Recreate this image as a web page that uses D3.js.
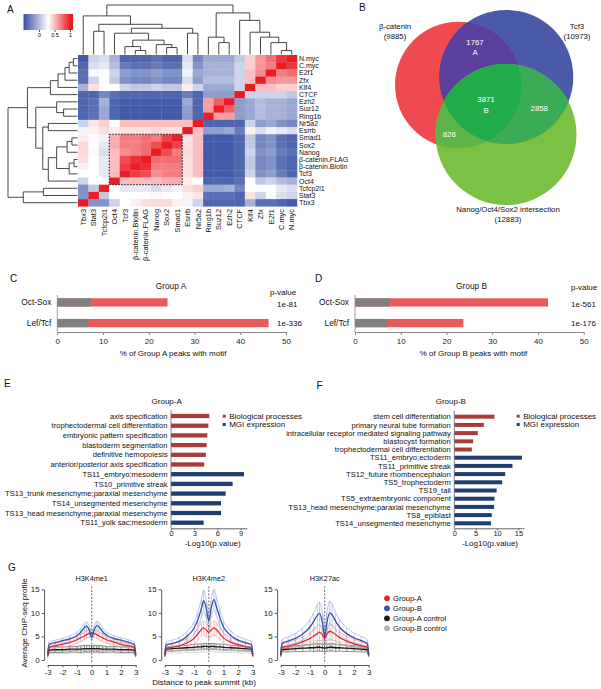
<!DOCTYPE html>
<html>
<head>
<meta charset="utf-8">
<script src="https://cdn.jsdelivr.net/npm/d3@7"></script>
<style>
  body { margin: 0; background: #fff; }
</style>
</head>
<body>
<div id="figure"></div>
<script>
// ---------- data ----------
const heatCols = ['Tbx3', 'Stat3', 'Tcfcp2l1', 'Oct4', 'Tcf3', 'β-catenin.Biotin', 'β-catenin.FLAG', 'Nanog', 'Sox2', 'Smad1',
  'Esrrb', 'Nr5a2', 'Ring1b', 'Suz12', 'Ezh2', 'CTCF', 'Klf4', 'Zfx', 'E2f1', 'C.myc', 'N.myc'];
const heatRows = ['N.myc', 'C.myc', 'E2f1', 'Zfx', 'Klf4', 'CTCF', 'Ezh2', 'Suz12', 'Ring1b', 'Nr5a2', 'Esrrb',
  'Smad1', 'Sox2', 'Nanog', 'β-catenin.FLAG', 'β-catenin.Biotin', 'Tcf3', 'Oct4', 'Tcfcp2l1', 'Stat3', 'Tbx3'];
// correlation, one row per heatRows entry, columns in heatCols order
const corr = [
  [-0.45, 0.1, 0.15, -0.05, -0.4, -0.4, -0.4, -0.35, -0.4, -0.4, 0.15, -0.25, -0.1, -0.1, -0.1, 0.05, 0.45, 0.62, 0.75, 0.92, 1],
  [-0.4, 0.15, 0.2, 0.0, -0.3, -0.35, -0.35, -0.3, -0.35, -0.35, 0.2, -0.2, -0.05, -0.05, -0.05, 0.1, 0.45, 0.62, 0.7, 1, 0.92],
  [-0.35, 0.28, 0.3, 0.1, -0.15, -0.2, -0.2, -0.15, -0.2, -0.2, 0.25, -0.1, -0.05, -0.05, -0.05, 0.1, 0.5, 0.65, 1, 0.7, 0.75],
  [-0.35, 0.1, 0.3, 0.05, -0.2, -0.25, -0.25, -0.2, -0.25, -0.25, 0.15, -0.15, 0.0, 0.0, 0.0, 0.1, 0.5, 1, 0.65, 0.62, 0.62],
  [-0.05, 0.4, 0.3, 0.3, 0.1, 0.05, 0.05, 0.1, 0.05, 0.05, 0.35, 0.1, -0.1, -0.1, -0.1, 0.1, 1, 0.5, 0.5, 0.45, 0.45],
  [-0.4, -0.4, -0.25, -0.35, -0.4, -0.4, -0.4, -0.4, -0.4, -0.4, -0.3, -0.4, -0.15, -0.15, -0.15, 1, 0.1, 0.1, 0.1, 0.1, 0.05],
  [-0.4, -0.35, -0.05, -0.4, -0.45, -0.45, -0.45, -0.45, -0.45, -0.45, -0.1, -0.4, 0.6, 0.8, 1, -0.15, -0.1, 0.0, -0.05, -0.05, -0.1],
  [-0.4, -0.35, -0.1, -0.4, -0.45, -0.45, -0.45, -0.45, -0.45, -0.45, -0.15, -0.4, 0.6, 1, 0.8, -0.15, -0.1, 0.0, -0.05, -0.05, -0.1],
  [-0.4, -0.35, -0.1, -0.4, -0.45, -0.45, -0.45, -0.45, -0.45, -0.45, -0.15, -0.4, 1, 0.6, 0.6, -0.15, -0.1, 0.0, -0.05, -0.05, -0.1],
  [0.1, 0.38, 0.45, 0.3, 0.5, 0.5, 0.5, 0.5, 0.5, 0.5, 0.5, 1, -0.4, -0.4, -0.4, -0.4, 0.1, -0.15, -0.1, -0.2, -0.25],
  [0.25, 0.35, 0.4, 0.35, 0.4, 0.4, 0.4, 0.42, 0.4, 0.4, 1, 0.5, -0.15, -0.15, -0.1, -0.3, 0.35, 0.15, 0.25, 0.2, 0.15],
  [0.35, 0.3, 0.25, 0.55, 0.7, 0.7, 0.75, 0.7, 0.88, 1, 0.4, 0.5, -0.45, -0.45, -0.45, -0.4, 0.05, -0.25, -0.2, -0.35, -0.4],
  [0.42, 0.3, 0.2, 0.55, 0.7, 0.7, 0.75, 0.85, 1, 0.88, 0.4, 0.5, -0.45, -0.45, -0.45, -0.4, 0.05, -0.25, -0.2, -0.35, -0.4],
  [0.42, 0.32, 0.15, 0.5, 0.65, 0.7, 0.75, 1, 0.85, 0.7, 0.42, 0.5, -0.45, -0.45, -0.45, -0.4, 0.1, -0.2, -0.15, -0.3, -0.35],
  [0.4, 0.3, 0.2, 0.5, 0.85, 0.95, 1, 0.75, 0.75, 0.75, 0.4, 0.5, -0.45, -0.45, -0.45, -0.4, 0.05, -0.25, -0.2, -0.35, -0.4],
  [0.35, 0.3, 0.2, 0.5, 0.9, 1, 0.95, 0.7, 0.7, 0.7, 0.4, 0.5, -0.45, -0.45, -0.45, -0.4, 0.05, -0.25, -0.2, -0.35, -0.4],
  [0.3, 0.3, 0.2, 0.5, 1, 0.9, 0.85, 0.65, 0.7, 0.7, 0.4, 0.5, -0.45, -0.45, -0.45, -0.4, 0.1, -0.2, -0.15, -0.3, -0.4],
  [0.1, 0.3, 0.3, 1, 0.5, 0.5, 0.5, 0.5, 0.55, 0.55, 0.35, 0.3, -0.4, -0.4, -0.4, -0.35, 0.3, 0.05, 0.1, 0.0, -0.05],
  [-0.2, 0.05, 1, 0.3, 0.2, 0.2, 0.2, 0.15, 0.2, 0.25, 0.4, 0.45, -0.1, -0.1, -0.05, -0.25, 0.3, 0.3, 0.3, 0.2, 0.15],
  [-0.2, 1, 0.05, 0.3, 0.3, 0.3, 0.3, 0.32, 0.3, 0.3, 0.35, 0.38, -0.35, -0.35, -0.35, -0.4, 0.4, 0.1, 0.28, 0.15, 0.1],
  [1, -0.2, -0.2, 0.1, 0.3, 0.35, 0.4, 0.42, 0.42, 0.35, 0.25, 0.1, -0.4, -0.4, -0.4, -0.4, -0.05, -0.35, -0.35, -0.4, -0.45]
];
const legendTicks = [0, 0.5, 1];

// dendrograms: [height, child, child]
const colTree = [1.0,
  [0.78, 'Tbx3',
    [0.61, [0.47, 'Stat3', 'Tcfcp2l1'],
      [0.53,
        [0.43, 'Oct4', [0.29, [0.16, 'Tcf3', [0.08, 'β-catenin.Biotin', 'β-catenin.FLAG']], [0.2, 'Nanog', [0.14, 'Sox2', 'Smad1']]]],
        [0.43, 'Esrrb', 'Nr5a2']]]],
  [0.84,
    [0.35, 'Ring1b', [0.24, 'Suz12', 'Ezh2']],
    [0.69, 'CTCF', [0.45, 'Klf4', [0.35, 'Zfx', [0.24, 'E2f1', [0.08, 'C.myc', 'N.myc']]]]]]];
const rowTree = [1.0,
  [0.72,
    [0.39, [0.28, [0.18, [0.12, [0.06, 'N.myc', 'C.myc'], 'E2f1'], 'Zfx'], 'Klf4'], 'CTCF'],
    [0.6, [0.3, 'Ezh2', [0.2, 'Suz12', 'Ring1b']],
      [0.5, [0.42, 'Nr5a2', 'Esrrb'],
        [0.42, [0.3, [0.15, [0.08, 'Smad1', 'Sox2'], 'Nanog'], [0.12, [0.05, 'β-catenin.FLAG', 'β-catenin.Biotin'], 'Tcf3']], 'Oct4']]]],
  [0.78, [0.49, 'Tcfcp2l1', 'Stat3'], 'Tbx3']];

// Venn
const vennSets = ['β-catenin', 'Tcf3', 'Nanog/Oct4/Sox2 intersection'];
const vennTotals = [9885, 10973, 12883];
const vennOverlaps = [
  { count: 1767, group: 'A' },
  { count: 3871, group: 'B' },
  { count: 2858, group: '' },
  { count: 826, group: '' }
];

// motif enrichment
const motifCats = ['Oct-Sox', 'Lef/Tcf'];
const motifTicks = [0, 10, 20, 30, 40, 50];
const motifA = [24.1, 46.2];
const motifABg = [7.4, 6.8];
const motifAP = ['1e-81', '1e-336'];
const motifB = [42.2, 23.7];
const motifBBg = [7.6, 7.1];
const motifBP = ['1e-561', '1e-176'];

// GO
const goATerms = ['axis specification', 'trophectodermal cell differentiation', 'embryonic pattern specification',
  'blastoderm segmentation', 'definitive hemopoiesis', 'anterior/posterior axis specification',
  'TS11_embryo;mesoderm', 'TS10_primitive streak', 'TS13_trunk mesenchyme;paraxial mesenchyme',
  'TS14_unsegmented mesenchyme', 'TS13_head mesenchyme;paraxial mesenchyme', 'TS11_yolk sac;mesoderm'];
const goAValues = [4.95, 4.83, 4.7, 4.6, 4.5, 4.3, 9.44, 7.97, 7.07, 6.47, 6.47, 4.22];
const goATypes = ['bp', 'bp', 'bp', 'bp', 'bp', 'bp', 'mgi', 'mgi', 'mgi', 'mgi', 'mgi', 'mgi'];
const goATicks = [0, 3, 6, 9];
const goBTerms = ['stem cell differentiation', 'primary neural tube formation', 'intracellular receptor mediated signaling pathway',
  'blastocyst formation', 'trophectodermal cell differentiation', 'TS11_embryo;ectoderm', 'TS11_primitive streak',
  'TS12_future rhombencephalon', 'TS5_trophectoderm', 'TS19_tail', 'TS5_extraembryonic component',
  'TS13_head mesenchyme;paraxial mesenchyme', 'TS8_epiblast', 'TS14_unsegmented mesenchyme'];
const goBValues = [9.4, 6.9, 5.5, 4.4, 4.1, 15.8, 13.6, 11.9, 11.2, 9.9, 9.4, 9.3, 8.75, 8.6];
const goBTypes = ['bp', 'bp', 'bp', 'bp', 'bp', 'mgi', 'mgi', 'mgi', 'mgi', 'mgi', 'mgi', 'mgi', 'mgi', 'mgi'];
const goBTicks = [0, 5, 10, 15];
const goLegend = ['Biological processes', 'MGI expression'];

// ChIP-seq profiles
const profileX = [-3, -2.9, -2.5, -2, -1.5, -1, -0.75, -0.5, -0.35, -0.15, 0, 0.15, 0.35, 0.5, 0.75, 1, 1.5, 2, 2.5, 2.9, 3];
const profileMarks = ['H3K4me1', 'H3K4me2', 'H3K27ac'];
const profileSeries = ['Group-A', 'Group-B', 'Group-A control', 'Group-B control'];
const me1GroupA = [1.2, 2.7, 3.0, 3.3, 3.7, 4.3, 4.7, 5.1, 5.4, 5.6, 5.7, 5.6, 5.4, 5.1, 4.7, 4.3, 3.8, 3.3, 3.0, 2.7, 1.2];
const me1GroupB = [1.5, 3.3, 3.7, 4.1, 4.5, 5.2, 5.9, 6.9, 7.2, 6.2, 4.9, 6.2, 7.3, 7.0, 6.0, 5.3, 4.6, 4.2, 3.8, 3.3, 1.4];
const me1CtrlA = [1.0, 2.1, 2.2, 2.2, 2.3, 2.3, 2.3, 2.4, 2.4, 2.4, 2.4, 2.4, 2.4, 2.4, 2.3, 2.3, 2.3, 2.2, 2.2, 2.1, 1.0];
const me1CtrlB = [0.9, 1.9, 2.0, 2.0, 2.0, 2.1, 2.1, 2.1, 2.2, 2.2, 2.2, 2.2, 2.2, 2.1, 2.1, 2.1, 2.0, 2.0, 2.0, 1.9, 0.9];
const me1ErrA = [0.3, 0.5, 0.5, 0.6, 0.6, 0.7, 0.8, 0.8, 0.8, 0.8, 0.8, 0.8, 0.8, 0.8, 0.8, 0.7, 0.6, 0.6, 0.5, 0.5, 0.3];
const me1ErrB = [0.3, 0.5, 0.5, 0.5, 0.6, 0.7, 0.8, 0.9, 0.9, 0.8, 0.7, 0.8, 0.9, 0.9, 0.8, 0.7, 0.6, 0.5, 0.5, 0.5, 0.3];
const me1ErrCtrl = [0.3, 0.6, 0.6, 0.6, 0.6, 0.6, 0.7, 0.7, 0.7, 0.7, 0.7, 0.7, 0.7, 0.7, 0.7, 0.6, 0.6, 0.6, 0.6, 0.6, 0.3];
const me2GroupA = [1.0, 2.5, 2.7, 3.0, 3.6, 4.6, 5.5, 6.5, 6.8, 6.3, 5.9, 6.3, 6.8, 6.5, 5.6, 4.7, 3.8, 3.2, 2.8, 2.5, 1.0];
const me2GroupB = [1.3, 3.2, 3.5, 4.0, 5.0, 6.8, 8.5, 11.0, 12.6, 10.5, 8.3, 10.8, 12.8, 11.5, 9.0, 7.0, 5.2, 4.2, 3.7, 3.3, 1.3];
const me2CtrlA = [1.0, 2.3, 2.4, 2.5, 2.6, 2.7, 2.8, 2.8, 2.9, 2.9, 2.8, 2.9, 2.9, 2.8, 2.8, 2.7, 2.6, 2.5, 2.4, 2.3, 1.0];
const me2CtrlB = [0.9, 1.9, 2.0, 2.0, 2.1, 2.2, 2.2, 2.3, 2.3, 2.3, 2.3, 2.3, 2.3, 2.3, 2.2, 2.2, 2.1, 2.0, 2.0, 1.9, 0.9];
const me2ErrA = [0.3, 0.6, 0.7, 0.8, 0.9, 1.1, 1.3, 1.4, 1.5, 1.4, 1.3, 1.4, 1.5, 1.4, 1.3, 1.1, 0.9, 0.8, 0.7, 0.6, 0.3];
const me2ErrB = [0.4, 0.6, 0.7, 0.8, 1.0, 1.3, 1.6, 2.0, 2.2, 1.9, 1.6, 1.9, 2.2, 2.0, 1.7, 1.3, 1.0, 0.8, 0.7, 0.6, 0.4];
const me2ErrCtrl = [0.3, 0.5, 0.5, 0.5, 0.5, 0.6, 0.6, 0.6, 0.6, 0.6, 0.6, 0.6, 0.6, 0.6, 0.6, 0.6, 0.5, 0.5, 0.5, 0.5, 0.3];
const acGroupA = [1.2, 2.7, 2.9, 3.3, 3.9, 4.6, 5.1, 5.6, 5.9, 5.3, 4.6, 5.5, 6.1, 5.9, 5.4, 4.8, 4.0, 3.4, 3.0, 2.7, 1.2];
const acGroupB = [1.5, 3.5, 4.0, 4.6, 5.5, 7.0, 8.2, 9.5, 9.9, 7.8, 5.0, 8.0, 10.0, 9.6, 8.2, 7.0, 5.6, 4.7, 4.1, 3.5, 1.4];
const acCtrlA = [1.0, 2.2, 2.3, 2.4, 2.5, 2.6, 2.6, 2.7, 2.7, 2.6, 2.5, 2.6, 2.7, 2.7, 2.6, 2.6, 2.5, 2.4, 2.3, 2.2, 1.0];
const acCtrlB = [1.0, 2.4, 2.6, 2.8, 3.0, 3.2, 3.3, 3.4, 3.4, 3.3, 3.2, 3.3, 3.4, 3.4, 3.3, 3.2, 3.0, 2.8, 2.6, 2.4, 1.0];
const acErrA = [0.3, 0.7, 0.8, 0.9, 1.0, 1.2, 1.4, 1.6, 1.7, 1.5, 1.3, 1.5, 1.7, 1.6, 1.4, 1.2, 1.0, 0.9, 0.8, 0.7, 0.3];
const acErrB = [0.4, 0.8, 0.9, 1.0, 1.3, 1.6, 1.9, 2.2, 2.4, 2.0, 1.5, 2.0, 2.5, 2.3, 1.9, 1.6, 1.3, 1.0, 0.9, 0.8, 0.4];
const acErrCtrl = [0.3, 0.5, 0.6, 0.6, 0.7, 0.7, 0.8, 0.8, 0.8, 0.8, 0.8, 0.8, 0.8, 0.8, 0.8, 0.7, 0.7, 0.6, 0.6, 0.5, 0.3];
const profileTicksX = [-3, -2, -1, 0, 1, 2, 3];
const profileTicksY = [0, 5, 10, 15];

// ---------- drawing ----------
const font = "'Liberation Sans', Arial, Helvetica, sans-serif";
const svg = d3.select('#figure')
  .append('svg')
  .attr('width', 601)
  .attr('height', 689)
  .style('font-family', font)
  .style('background', '#fff');
const defs = svg.append('defs');

const addText = (g, x, y, txt, size, anchor = 'start', fill = '#111') =>
  g.append('text').attr('x', x).attr('y', y).attr('font-size', size)
    .attr('text-anchor', anchor).attr('fill', fill).text(txt);

// panel letters
[['A', 7, 12.5], ['B', 359, 11], ['C', 10, 282], ['D', 315, 282], ['E', 4, 387], ['F', 316.5, 389], ['G', 8, 571]]
  .forEach(([t, x, y]) => addText(svg, x, y, t, 10));

// ---- A: heatmap ----
const heat = svg.append('g');
const cellX = d3.scaleBand().domain(heatCols).range([78, 297]);
const cellY = d3.scaleBand().domain(heatRows).range([55, 206.3]);
const heatColor = d3.scaleLinear().domain([-0.5, 0.3, 1]).range(['#3650a3', '#ffffff', '#ec1c24']).clamp(true);

const cells = heatRows.flatMap((r, i) => heatCols.map((c, j) => ({ r, c, v: corr[i][j] })));
heat.selectAll('rect.cell')
  .data(cells)
  .join('rect')
  .attr('x', d => cellX(d.c))
  .attr('y', d => cellY(d.r))
  .attr('width', cellX.bandwidth() + 0.3)
  .attr('height', cellY.bandwidth() + 0.3)
  .attr('fill', d => heatColor(d.v));

// dotted box around the core cluster
heat.append('rect')
  .attr('x', cellX('Oct4'))
  .attr('y', cellY('Smad1'))
  .attr('width', cellX('Smad1') + cellX.bandwidth() - cellX('Oct4'))
  .attr('height', cellY('Oct4') + cellY.bandwidth() - cellY('Smad1'))
  .attr('fill', 'none')
  .attr('stroke', '#111')
  .attr('stroke-width', 1)
  .attr('stroke-dasharray', '1.5,1.5');

heat.selectAll('text.row')
  .data(heatRows)
  .join('text')
  .attr('x', 299)
  .attr('y', d => cellY(d) + cellY.bandwidth() / 2)
  .attr('dy', '0.35em')
  .attr('font-size', 7)
  .attr('fill', '#111')
  .text(d => d);

heat.selectAll('text.col')
  .data(heatCols)
  .join('text')
  .attr('transform', d => `translate(${cellX(d) + cellX.bandwidth() / 2}, 209) rotate(-90)`)
  .attr('dy', '0.35em')
  .attr('text-anchor', 'end')
  .attr('font-size', 7.4)
  .attr('fill', '#111')
  .text(d => d);

// dendrograms
const drawTree = (g, tree, leafPos, depth, horizontal) => {
  const seg = (p0, h0, p1, h1) => {
    const pts = horizontal ? [[depth(h0), p0], [depth(h1), p1]] : [[p0, depth(h0)], [p1, depth(h1)]];
    g.append('path').attr('d', d3.line()(pts))
      .attr('fill', 'none').attr('stroke', '#333').attr('stroke-width', 0.9);
  };
  const walk = node => {
    if (typeof node === 'string') return { p: leafPos(node), h: 0 };
    const [h, ...kids] = node;
    const ks = kids.map(walk);
    ks.forEach(k => seg(k.p, k.h, k.p, h));
    seg(ks[0].p, h, ks[ks.length - 1].p, h);
    return { p: d3.mean(ks, k => k.p), h };
  };
  walk(tree);
};
drawTree(heat.append('g'), colTree, d => cellX(d) + cellX.bandwidth() / 2,
  d3.scaleLinear().domain([0, 1]).range([54.5, 5]), false);
drawTree(heat.append('g'), rowTree, d => cellY(d) + cellY.bandwidth() / 2,
  d3.scaleLinear().domain([0, 1]).range([77.5, 8]), true);

// color key
const keyX = d3.scaleLinear().domain([0, 1]).range([39, 70]);
const grad = defs.append('linearGradient').attr('id', 'key-grad');
d3.range(-0.5, 1.11, 0.1).forEach(v => {
  grad.append('stop')
    .attr('offset', `${(v + 0.5) / 1.6 * 100}%`)
    .attr('stop-color', heatColor(v));
});
heat.append('rect')
  .attr('x', keyX(-0.5)).attr('y', 14)
  .attr('width', keyX(1.1) - keyX(-0.5)).attr('height', 16)
  .attr('fill', 'url(#key-grad)');
const keyAxis = heat.append('g')
  .attr('transform', 'translate(0, 30)')
  .call(d3.axisBottom(keyX).tickValues(legendTicks).tickSize(2).tickPadding(1.5).tickFormat(d => String(d)));
keyAxis.select('.domain').remove();
keyAxis.attr('font-family', font).attr('font-size', 5.5);
keyAxis.selectAll('line').attr('stroke', '#555');

// ---- B: Venn ----
const venn = svg.append('g');
const circles = [
  { cx: 458.3, cy: 85, r: 63.3 },
  { cx: 506.3, cy: 77, r: 67 },
  { cx: 506, cy: 134.5, r: 70.5 }
];
circles.forEach((c, i) => {
  defs.append('clipPath').attr('id', `clip-set${i}`)
    .append('circle').attr('cx', c.cx).attr('cy', c.cy).attr('r', c.r);
});
const circle = (g, i, fill) => g.append('circle')
  .attr('cx', circles[i].cx).attr('cy', circles[i].cy).attr('r', circles[i].r).attr('fill', fill);

circle(venn, 0, '#ee4a50');
circle(venn, 1, '#4b59a9');
circle(venn.append('g').attr('clip-path', 'url(#clip-set0)'), 1, '#5a3f9c');
circle(venn, 2, '#7bc143');
circle(venn.append('g').attr('clip-path', 'url(#clip-set1)'), 2, '#3bab56');
circle(venn.append('g').attr('clip-path', 'url(#clip-set0)'), 2, '#5db548');
circle(venn.append('g').attr('clip-path', 'url(#clip-set0)').append('g').attr('clip-path', 'url(#clip-set1)'), 2, '#22ab49');

const vennLabelPos = [[395, 28.7], [577, 28.7], [508, 212.3]];
vennSets.forEach((s, i) => {
  addText(venn, vennLabelPos[i][0], vennLabelPos[i][1], s, 7.8, 'middle');
  addText(venn, vennLabelPos[i][0], vennLabelPos[i][1] + 9.8, `(${vennTotals[i]})`, 7.8, 'middle');
});
const overlapPos = [[475, 44.5], [486, 102], [539.3, 111], [449.3, 137]];
vennOverlaps.forEach((o, i) => {
  addText(venn, overlapPos[i][0], overlapPos[i][1], o.count, 7.8, 'middle', '#fff');
  if (o.group) addText(venn, overlapPos[i][0], overlapPos[i][1] + 10.5, o.group, 7.8, 'middle', '#fff');
});

// ---- C / D: motif bars ----
const drawMotif = (opts) => {
  const g = svg.append('g');
  const x = d3.scaleLinear().domain([0, 50]).range([opts.x0, opts.x0 + 228.7]);
  const y = d3.scaleBand().domain(motifCats).range([290, 335.5]).paddingInner(0.6).paddingOuter(0.4);

  g.selectAll('rect.fg').data(motifCats).join('rect')
    .attr('x', x(0)).attr('y', d => y(d))
    .attr('width', (d, i) => x(opts.fg[i]) - x(0)).attr('height', y.bandwidth())
    .attr('fill', '#e85b5a');
  g.selectAll('rect.bg').data(motifCats).join('rect')
    .attr('x', x(0)).attr('y', d => y(d))
    .attr('width', (d, i) => x(opts.bg[i]) - x(0)).attr('height', y.bandwidth())
    .attr('fill', '#808080');

  g.append('line').attr('x1', x(0)).attr('x2', x(0)).attr('y1', 295).attr('y2', 332)
    .attr('stroke', '#888').attr('stroke-width', 0.8);
  const ax = g.append('g').attr('transform', 'translate(0, 332)')
    .call(d3.axisBottom(x).tickValues(motifTicks).tickSize(3).tickSizeOuter(0));
  ax.attr('font-family', font).attr('font-size', 8);
  ax.selectAll('path, line').attr('stroke', '#888');
  ax.selectAll('text').attr('fill', '#222');

  g.selectAll('text.cat').data(motifCats).join('text')
    .attr('x', opts.x0 - 6).attr('y', d => y(d) + y.bandwidth() / 2).attr('dy', '0.35em')
    .attr('text-anchor', 'end').attr('font-size', 8.3).attr('fill', '#111').text(d => d);

  addText(g, opts.titleX, 288.5, opts.title, 8.3, 'middle');
  addText(g, opts.pX, opts.pY, 'p-value', 8, 'start');
  opts.p.forEach((p, i) => addText(g, opts.pValX, y(motifCats[i]) + y.bandwidth() / 2 + 3 + (i === 0 ? 1.5 : 0), p, 8, 'start'));
  addText(g, opts.titleX + 2, 355.5, opts.xlabel, 8, 'middle');
};
drawMotif({ x0: 57.3, fg: motifA, bg: motifABg, p: motifAP, title: 'Group A', titleX: 171,
  pX: 270, pY: 294.5, pValX: 277, xlabel: '% of Group A peaks with motif' });
drawMotif({ x0: 355, fg: motifB, bg: motifBBg, p: motifBP, title: 'Group B', titleX: 471.5,
  pX: 571, pY: 289.5, pValX: 571, xlabel: '% of Group B peaks with motif' });

// ---- E / F: GO bars ----
const goColor = { bp: '#ab3a3a', mgi: '#1f3d6e' };
const drawGO = (opts) => {
  const g = svg.append('g');
  const x = d3.scaleLinear().domain([0, opts.max]).range([opts.x0, opts.x1]);
  const y = d3.scalePoint().domain(opts.terms).range([opts.yTop, opts.yBottom]);

  g.selectAll('rect').data(opts.terms).join('rect')
    .attr('x', x(0)).attr('y', d => y(d) - opts.barH / 2)
    .attr('width', (d, i) => x(opts.values[i]) - x(0)).attr('height', opts.barH)
    .attr('fill', (d, i) => goColor[opts.types[i]]);

  g.append('line').attr('x1', x(0)).attr('x2', x(0))
    .attr('y1', opts.yTop - 6).attr('y2', 528.3).attr('stroke', '#666').attr('stroke-width', 0.8);
  const ax = g.append('g').attr('transform', 'translate(0, 528.3)')
    .call(d3.axisBottom(x).tickValues(opts.ticks).tickSize(2).tickPadding(0.5).tickSizeOuter(0));
  ax.attr('font-family', font).attr('font-size', 7.5);
  ax.selectAll('path, line').attr('stroke', '#666');
  ax.selectAll('text').attr('fill', '#222');

  g.selectAll('text.term').data(opts.terms).join('text')
    .attr('x', x(0) - 3.5).attr('y', d => y(d)).attr('dy', '0.35em')
    .attr('text-anchor', 'end').attr('font-size', 7.6).attr('fill', '#111').text(d => d);

  addText(g, opts.titleX, 403.8, opts.title, 8, 'middle');
  addText(g, opts.labelX, 545.5, '-Log10(p.value)', 8, 'middle');

  goLegend.forEach((l, i) => {
    g.append('rect').attr('x', opts.legX).attr('y', 414.7 + i * 8.3).attr('width', 3).attr('height', 3)
      .attr('fill', i === 0 ? goColor.bp : goColor.mgi);
    addText(g, opts.legX + 6.5, 419 + i * 8.3, l, 8, 'start');
  });
};
drawGO({ terms: goATerms, values: goAValues, types: goATypes, ticks: goATicks, max: 9.8,
  x0: 171, x1: 246.8, yTop: 416, yBottom: 522.7, barH: 4.3,
  title: 'Group-A', titleX: 166.7, labelX: 212.7, legX: 222.7 });
drawGO({ terms: goBTerms, values: goBValues, types: goBTypes, ticks: goBTicks, max: 16.3,
  x0: 454.3, x1: 524, yTop: 416.7, yBottom: 523.3, barH: 4,
  title: 'Group-B', titleX: 450.8, labelX: 490, legX: 516.7 });

// ---- G: ChIP-seq profiles ----
const seriesColor = ['#e8262c', '#3953a4', '#1a1a1a', '#b0b0b0'];
const errColor = ['#f3a5a7', '#a9b5de', '#6e6e6e', '#d3d3d3'];
const profiles = [
  { values: [me1GroupA, me1GroupB, me1CtrlA, me1CtrlB], errs: [me1ErrA, me1ErrB, me1ErrCtrl, me1ErrCtrl] },
  { values: [me2GroupA, me2GroupB, me2CtrlA, me2CtrlB], errs: [me2ErrA, me2ErrB, me2ErrCtrl, me2ErrCtrl] },
  { values: [acGroupA, acGroupB, acCtrlA, acCtrlB], errs: [acErrA, acErrB, acErrCtrl, acErrCtrl] }
];
const chartX0 = [47.7, 164.8, 280.7];
const yProf = d3.scaleLinear().domain([0, 15]).range([660, 589.3]);

profiles.forEach((prof, k) => {
  const g = svg.append('g');
  const x = d3.scaleLinear().domain([-3, 3]).range([chartX0[k], chartX0[k] + 88]);
  const line = d3.line().x((d, i) => x(profileX[i])).y(d => yProf(d)).curve(d3.curveMonotoneX);

  // draw controls first, Group-B last
  [3, 2, 0, 1].forEach(s => {
    const v = prof.values[s], e = prof.errs[s];
    g.append('path').datum(v.map((d, i) => d + e[i])).attr('d', line)
      .attr('fill', 'none').attr('stroke', errColor[s]).attr('stroke-width', 0.8);
    g.append('path').datum(v.map((d, i) => d - e[i])).attr('d', line)
      .attr('fill', 'none').attr('stroke', errColor[s]).attr('stroke-width', 0.8);
    g.selectAll(null).data(v).join('line')
      .attr('x1', (d, i) => x(profileX[i])).attr('x2', (d, i) => x(profileX[i]))
      .attr('y1', (d, i) => yProf(d - e[i])).attr('y2', (d, i) => yProf(d + e[i]))
      .attr('stroke', errColor[s]).attr('stroke-width', 0.7);
  });
  [3, 2, 0, 1].forEach(s => {
    g.append('path').datum(prof.values[s]).attr('d', line)
      .attr('fill', 'none').attr('stroke', seriesColor[s]).attr('stroke-width', 1.3);
  });

  g.append('line').attr('x1', x(0)).attr('x2', x(0)).attr('y1', 586.5).attr('y2', 663)
    .attr('stroke', '#333').attr('stroke-width', 0.7).attr('stroke-dasharray', '2,1.5');

  const ay = g.append('g').attr('transform', `translate(${chartX0[k] - 3.6}, 0)`)
    .call(d3.axisLeft(yProf).tickValues(profileTicksY).tickSize(2.5).tickPadding(2).tickSizeOuter(0));
  const ax = g.append('g').attr('transform', 'translate(0, 665)')
    .call(d3.axisBottom(x).tickValues(profileTicksX).tickSize(2.5).tickPadding(1.5).tickSizeOuter(0)
      .tickFormat(d => String(d)));
  [ay, ax].forEach(a => {
    a.attr('font-family', font).attr('font-size', 8);
    a.selectAll('path, line').attr('stroke', '#555');
    a.selectAll('text').attr('fill', '#222');
  });
  addText(g, x(0), 580.5, profileMarks[k], 7.3, 'middle');
});

svg.append('text')
  .attr('transform', 'translate(27, 623) rotate(-90)')
  .attr('text-anchor', 'middle').attr('font-size', 8).attr('fill', '#111')
  .text('Average ChIP-seq profile');
addText(svg, 204, 684.5, 'Distance to peak summit (kb)', 8, 'middle');

profileSeries.forEach((s, i) => {
  svg.append('circle').attr('cx', 387).attr('cy', 598.3 + i * 10).attr('r', 2.9).attr('fill', seriesColor[i]);
  addText(svg, 393, 601 + i * 10, s, 7.6, 'start');
});
</script>
</body>
</html>
